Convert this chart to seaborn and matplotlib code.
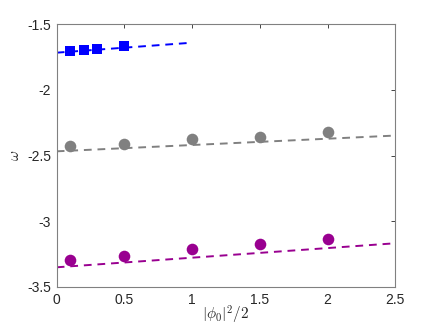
import numpy as np
import pandas as pd
import seaborn as sns
import matplotlib
matplotlib.use("Agg")
import matplotlib.pyplot as plt

# points
blue_x = [0.1, 0.2, 0.3, 0.5]
blue_y = [-1.706, -1.693, -1.686, -1.665]
gray_x = [0.1, 0.5, 1.0, 1.5, 2.0]
gray_y = [-2.429, -2.408, -2.373, -2.355, -2.320]
purple_x = [0.1, 0.5, 1.0, 1.5, 2.0]
purple_y = [-3.296, -3.261, -3.212, -3.172, -3.134]

# dashed fit lines (end points)
blue_line_x = [0.0, 1.0]
blue_line_y = [-1.716, -1.640]
gray_line_x = [0.0, 2.5]
gray_line_y = [-2.467, -2.347]
purple_line_x = [0.0, 2.5]
purple_line_y = [-3.350, -3.167]

xticks = [0, 0.5, 1, 1.5, 2, 2.5]
yticks = [-3.5, -3, -2.5, -2, -1.5]
ytick_labels = ["-3.5", "-3", "-2.5", "-2", "-1.5"]
xtick_labels = ["0", "0.5", "1", "1.5", "2", "2.5"]

sns.set_style("white")
plt.rcParams['font.family'] = ['Liberation Sans', 'DejaVu Sans']
plt.rcParams['mathtext.fontset'] = 'cm'

fig = plt.figure(figsize=(4.37, 3.28), dpi=100)
ax = fig.add_axes([56.7 / 437, 1 - 287 / 328, (395.3 - 56.7) / 437, (287 - 24.3) / 328])

blue = "#0000ff"
gray = "#808080"
purple = "#990090"

sns.lineplot(x=blue_line_x, y=blue_line_y, ax=ax, color=blue, linestyle=(0, (4, 3)), lw=1.4)
sns.lineplot(x=gray_line_x, y=gray_line_y, ax=ax, color=gray, linestyle=(0, (4, 3)), lw=1.4)
sns.lineplot(x=purple_line_x, y=purple_line_y, ax=ax, color=purple, linestyle=(0, (4, 3)), lw=1.4)

sns.scatterplot(x=blue_x, y=blue_y, ax=ax, color=blue, marker="s", s=45, edgecolor=blue, linewidth=0, zorder=3)
sns.scatterplot(x=gray_x, y=gray_y, ax=ax, color=gray, marker="o", s=70, linewidth=0, zorder=3)
sns.scatterplot(x=purple_x, y=purple_y, ax=ax, color=purple, marker="o", s=70, linewidth=0, zorder=3)

ax.set_xlim(0, 2.5)
ax.set_ylim(-3.5, -1.5)
ax.set_xticks(xticks)
ax.set_xticklabels(xtick_labels)
ax.set_yticks(yticks)
ax.set_yticklabels(ytick_labels)
ax.tick_params(direction="in", length=3, width=0.6, color="#262626",
               labelsize=10, top=True, right=True, labelcolor="#262626", pad=4)
for sp in ax.spines.values():
    sp.set_color("#808080")
    sp.set_linewidth(0.8)

ax.set_xlabel(r"$|\phi_0|^2/2$", fontsize=11, labelpad=-2)
ax.set_ylabel(r"$\omega$", fontsize=11, labelpad=4)

fig.savefig("out.png", dpi=100)
